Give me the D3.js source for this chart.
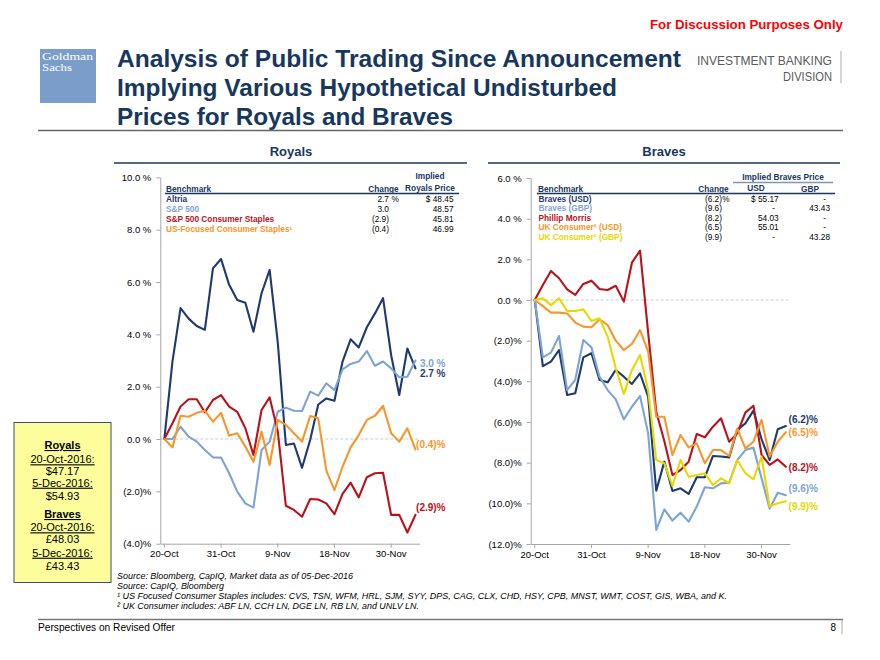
<!DOCTYPE html>
<html><head><meta charset="utf-8">
<script src="https://cdn.jsdelivr.net/npm/d3@7"></script>
<style>
body{margin:0;background:#fff;}
svg{display:block;font-family:"Liberation Sans",Arial,Helvetica,sans-serif;}
</style>
</head><body>
<svg id="c" width="880" height="660"></svg>
<script>
// ---------------- DATA ----------------
const dates = ["20-Oct","21-Oct","24-Oct","25-Oct","26-Oct","27-Oct","28-Oct","31-Oct","1-Nov","2-Nov","3-Nov","4-Nov",
  "7-Nov","8-Nov","9-Nov","10-Nov","11-Nov","14-Nov","15-Nov","16-Nov","17-Nov","18-Nov","21-Nov","22-Nov","23-Nov",
  "25-Nov","28-Nov","29-Nov","30-Nov","1-Dec","2-Dec","5-Dec"];
const tickDates = ["20-Oct","31-Oct","9-Nov","18-Nov","30-Nov"];

const royalsTicks = [-4,-2,0,2,4,6,8,10];
const bravesTicks = [-12,-10,-8,-6,-4,-2,0,2,4,6];

// Royals benchmarks (% change since 20-Oct)
const altria    = [0,2.96,5.0,4.6,4.32,4.17,6.52,6.88,5.89,5.31,5.21,4.10,5.57,6.46,3.7,-0.23,-0.17,-1.10,-0.04,1.32,1.55,1.46,2.96,3.81,3.50,4.27,4.80,5.38,3.2,1.68,3.46,2.7];
const sp500     = [0,0,0.47,0.09,-0.1,-0.42,-0.70,-0.71,-1.31,-2.01,-2.46,-2.62,-0.42,-0.1,1.04,1.20,1.08,1.07,1.81,1.66,2.13,1.87,2.66,2.87,2.96,3.36,2.80,2.96,2.70,2.36,2.38,3.0];
const spStaples = [0,0.6,1.24,1.52,1.52,1.02,1.49,1.68,1.24,1.04,0.41,-0.61,1.11,1.59,0.3,-2.55,-2.71,-2.97,-2.29,-2.31,-2.46,-2.87,-2.10,-1.67,-2.23,-1.46,-1.31,-1.29,-2.90,-2.90,-3.57,-2.9];
const usStaples = [0,-0.32,0.89,0.85,1.0,1.08,0.66,1.0,0.13,0.22,-0.29,-0.87,0.28,-0.99,0.73,0.54,0.22,-0.1,0.88,0.79,-1.21,-1.95,-1.06,-0.32,0.15,0.73,0.89,1.27,0.22,-0.1,0.41,-0.4];

const royalsNames   = ["Altria","S&P 500","S&P 500 Consumer Staples","US-Focused Consumer Staples\u00B9"];
const royalsChange  = [2.7, 3.0, -2.9, -0.4];
const royalsImplied = ["$ 48.45","48.57","45.81","46.99"];

// Braves benchmarks
const bravesUsd    = [0,-3.25,-3.03,-2.46,-4.67,-4.59,-2.82,-2.62,-3.93,-4.05,-3.44,-3.77,-4.13,-3.61,-4.75,-9.38,-7.95,-9.39,-9.26,-9.54,-8.72,-8.72,-7.67,-7.70,-7.74,-6.39,-6.07,-5.44,-6.84,-7.87,-6.36,-6.2];
const bravesGbp    = [0,-2.82,-2.59,-1.77,-4.43,-3.93,-1.97,-2.33,-3.77,-4.43,-4.89,-5.87,-5.25,-4.72,-6.56,-11.31,-10.30,-10.85,-10.46,-10.90,-10.16,-9.21,-9.26,-9.02,-8.98,-7.87,-7.38,-7.26,-8.77,-10.26,-9.48,-9.6];
const philipMorris = [0,0.74,1.43,1.07,0.52,0.25,0.79,0.95,0.54,0.49,0.70,-0.08,1.84,2.43,-1.6,-5.5,-6.95,-8.61,-8.36,-7.95,-6.59,-6.75,-6.23,-5.82,-6.97,-6.56,-5.54,-5.20,-7.62,-8.11,-7.84,-8.2];
const ukUsd        = [0,-0.30,-0.62,-0.62,-0.66,-1.11,-1.31,-1.34,-0.95,-1.23,-2.0,-2.46,-2.16,-1.48,-2.54,-5.74,-5.74,-7.62,-6.64,-7.25,-7.05,-8.03,-7.38,-7.38,-7.67,-6.31,-7.30,-6.97,-5.90,-7.70,-6.97,-6.5];
const ukGbp        = [0,0.08,-0.25,0.08,-0.54,-0.54,-0.46,-1.03,-0.90,-1.80,-3.36,-4.62,-3.44,-2.70,-4.43,-7.87,-8.03,-9.15,-7.87,-8.69,-8.61,-8.52,-9.10,-8.77,-9.02,-7.87,-8.52,-8.82,-7.70,-10.16,-10.0,-9.9];

const bravesNames  = ["Braves (USD)","Braves (GBP)","Phillip Morris","UK Consumer\u00B2 (USD)","UK Consumer\u00B2 (GBP)"];
const bravesChange = [-6.2, -9.6, -8.2, -6.5, -9.9];
const bravesImpUsd = ["$ 55.17","-","54.03","55.01","-"];
const bravesImpGbp = ["-","43.43","-","-","43.28"];

const boxLines = ["Royals","20-Oct-2016:","$47.17","5-Dec-2016:","$54.93","Braves","20-Oct-2016:","\u00A348.03","5-Dec-2016:","\u00A343.43"];

// ---------------- STYLE ----------------
const NAVY = "#1f3a6e", LBLUE = "#7ea4d5", RED = "#b8121b", ORANGE = "#f7962b", YELLOW = "#e6d900";
const HEAD = "#17375e";
const AXIS = "#a6a6a6";
const fmtPct = v => v < 0 ? `(${Math.abs(v).toFixed(1)})%` : `${v.toFixed(1)} %`;
const fmtNum = v => v < 0 ? `(${Math.abs(v).toFixed(1)})` : v.toFixed(1);

const svg = d3.select("#c");

function txt(g, x, y, s, o = {}) {
  const t = g.append("text").attr("x", x).attr("y", y).text(s)
    .attr("font-size", o.size || 10)
    .attr("fill", o.fill || "#000")
    .attr("text-anchor", o.anchor || "start");
  if (o.bold) t.attr("font-weight", "bold");
  if (o.italic) t.attr("font-style", "italic");
  if (o.family) t.attr("font-family", o.family);
  if (o.len) t.attr("textLength", o.len).attr("lengthAdjust", "spacingAndGlyphs");
  if (o.underline) t.attr("text-decoration", "underline");
  return t;
}

// ---------------- HEADER ----------------
txt(svg, 843, 29, "For Discussion Purposes Only", {size: 13, bold: true, fill: "#ff0000", anchor: "end", len: 193});

svg.append("rect").attr("x", 40).attr("y", 49).attr("width", 56).attr("height", 54).attr("fill", "#7b9dca");
txt(svg, 42, 60, "Goldman", {size: 10, fill: "#fff", family: "'Liberation Serif','DejaVu Serif',serif", len: 51});
txt(svg, 42, 71, "Sachs", {size: 10, fill: "#fff", family: "'Liberation Serif','DejaVu Serif',serif", len: 30});

const NARROW = "'Liberation Sans Narrow','Liberation Sans',Arial,sans-serif";
const titleLines = ["Analysis of Public Trading Since Announcement","Implying Various Hypothetical Undisturbed","Prices for Royals and Braves"];
const titleLens = [564, 500, 336];
titleLines.forEach((s, i) => txt(svg, 117, 67 + i * 29, s, {size: 24, bold: true, fill: HEAD, len: titleLens[i]}));

txt(svg, 832, 65, "INVESTMENT BANKING", {size: 13.5, fill: "#5a5a5a", anchor: "end", family: NARROW, len: 135});
txt(svg, 832, 81, "DIVISION", {size: 13.5, fill: "#5a5a5a", anchor: "end", family: NARROW, len: 49});
svg.append("line").attr("x1", 841).attr("x2", 841).attr("y1", 51).attr("y2", 83).attr("stroke", "#aaa").attr("stroke-width", 1);

svg.append("line").attr("x1", 38).attr("x2", 843).attr("y1", 130.5).attr("y2", 130.5).attr("stroke", "#666").attr("stroke-width", 1.5);

// section headers
txt(svg, 291, 156, "Royals", {size: 13, bold: true, fill: HEAD, anchor: "middle"});
svg.append("line").attr("x1", 114).attr("x2", 467).attr("y1", 163).attr("y2", 163).attr("stroke", HEAD).attr("stroke-width", 1.5);
txt(svg, 664, 156, "Braves", {size: 13, bold: true, fill: HEAD, anchor: "middle"});
svg.append("line").attr("x1", 488).attr("x2", 840).attr("y1", 163).attr("y2", 163).attr("stroke", HEAD).attr("stroke-width", 1.5);

// ---------------- CHART FUNCTION ----------------
function chart(cfg) {
  const g = svg.append("g");
  const x = d3.scaleBand().domain(dates).range(cfg.xr).padding(0);
  const y = d3.scaleLinear().domain(cfg.yd).range(cfg.yr);
  const cx = d => x(d) + x.bandwidth() / 2;

  // zero line
  g.append("line").attr("x1", cfg.xr[0]).attr("x2", cfg.xr[1])
    .attr("y1", y(0)).attr("y2", y(0))
    .attr("stroke", "#c0c0c0").attr("stroke-width", 0.8).attr("stroke-dasharray", "3,2");

  const ya = g.append("g").attr("transform", `translate(${cfg.xr[0]},0)`)
    .call(d3.axisLeft(y).tickValues(cfg.ticks).tickSize(4).tickSizeOuter(0).tickPadding(5).tickFormat(fmtPct));
  const xa = g.append("g").attr("transform", `translate(0,${cfg.yr[0]})`)
    .call(d3.axisBottom(x).tickValues(tickDates).tickSize(4).tickSizeOuter(0).tickPadding(3));
  [ya, xa].forEach(a => {
    a.select(".domain").attr("stroke", AXIS);
    a.selectAll(".tick line").attr("stroke", AXIS);
    a.selectAll(".tick text").attr("font-size", 9.5).attr("fill", "#000")
      .attr("font-family", "'Liberation Sans',Arial,sans-serif");
  });

  const line = d3.line().x((d, i) => cx(dates[i])).y(d => y(d));
  cfg.series.forEach((s, i) => {
    g.append("path").datum(s).attr("d", line).attr("fill", "none")
      .attr("stroke", cfg.colors[i]).attr("stroke-width", 2.1)
      .attr("stroke-linejoin", "round").attr("stroke-linecap", "round");
  });

  cfg.labelOrder.forEach((k, j) => {
    txt(g, cfg.labelX, cfg.labelY[j] + 3.5, fmtPct(cfg.change[k]), {size: 10, bold: true, fill: cfg.colors[k], anchor: "end"});
  });
  return {x, y};
}

chart({
  xr: [160.3, 419.5], yd: [-4, 10], yr: [543.7, 177.3], ticks: royalsTicks,
  series: [altria, sp500, spStaples, usStaples],
  colors: [NAVY, LBLUE, RED, ORANGE],
  change: royalsChange,
  labelOrder: [1, 0, 3, 2], labelY: [363, 373, 444.3, 507.7], labelX: 445.5
});

chart({
  xr: [530.7, 789.9], yd: [-12, 6], yr: [544, 178], ticks: bravesTicks,
  series: [bravesUsd, bravesGbp, philipMorris, ukUsd, ukGbp],
  colors: [NAVY, LBLUE, RED, ORANGE, YELLOW],
  change: bravesChange,
  labelOrder: [0, 3, 2, 1, 4], labelY: [419, 432.7, 467.7, 488.3, 506.7], labelX: 818
});

// ---------------- LEGEND TABLES ----------------
const lt = svg.append("g");
const royalColors = [NAVY, LBLUE, RED, ORANGE];
txt(lt, 430, 179, "Implied", {size: 8.3, bold: true, fill: HEAD, anchor: "middle"});
txt(lt, 430, 190.5, "Royals Price", {size: 8.3, bold: true, fill: HEAD, anchor: "middle"});
txt(lt, 166, 191.5, "Benchmark", {size: 8.3, bold: true, fill: HEAD});
txt(lt, 398.7, 191.5, "Change", {size: 8.3, bold: true, fill: HEAD, anchor: "end"});
lt.append("line").attr("x1", 165).attr("x2", 459).attr("y1", 193.5).attr("y2", 193.5).attr("stroke", HEAD).attr("stroke-width", 1.5);
royalsNames.forEach((n, i) => {
  const yy = 201.5 + i * 10;
  txt(lt, 166, yy, n, {size: 8.3, bold: true, fill: royalColors[i]});
  txt(lt, 389, yy, fmtNum(royalsChange[i]), {size: 8.3, anchor: "end"});
  if (i === 0) txt(lt, 391.5, yy, "%", {size: 8.3});
  txt(lt, 453.5, yy, royalsImplied[i], {size: 8.3, anchor: "end"});
});

const rt = svg.append("g");
const braveColors = [NAVY, LBLUE, RED, ORANGE, YELLOW];
txt(rt, 783, 180, "Implied Braves Price", {size: 8.3, bold: true, fill: HEAD, anchor: "middle"});
rt.append("line").attr("x1", 733).attr("x2", 833).attr("y1", 182.5).attr("y2", 182.5).attr("stroke", "#8296b0").attr("stroke-width", 1.5);
txt(rt, 756, 190.5, "USD", {size: 8.3, bold: true, fill: HEAD, anchor: "middle"});
txt(rt, 810, 191.5, "GBP", {size: 8.3, bold: true, fill: HEAD, anchor: "middle"});
txt(rt, 538, 191.5, "Benchmark", {size: 8.3, bold: true, fill: HEAD});
txt(rt, 728.7, 191.5, "Change", {size: 8.3, bold: true, fill: HEAD, anchor: "end"});
rt.append("line").attr("x1", 537).attr("x2", 835).attr("y1", 193.5).attr("y2", 193.5).attr("stroke", HEAD).attr("stroke-width", 1.5);
bravesNames.forEach((n, i) => {
  const yy = 201.5 + i * 9.5;
  txt(rt, 538.5, yy, n, {size: 8.3, bold: true, fill: braveColors[i]});
  txt(rt, 722, yy, fmtNum(bravesChange[i]), {size: 8.3, anchor: "end"});
  if (i === 0) txt(rt, 722.3, yy, "%", {size: 8.3});
  txt(rt, bravesImpUsd[i] === "-" ? 775 : 778.7, yy, bravesImpUsd[i], {size: 8.3, anchor: "end"});
  txt(rt, bravesImpGbp[i] === "-" ? 826 : 830, yy, bravesImpGbp[i], {size: 8.3, anchor: "end"});
});

// ---------------- YELLOW BOX ----------------
const bx = svg.append("g");
bx.append("rect").attr("x", 14).attr("y", 422.5).attr("width", 97).attr("height", 160)
  .attr("fill", "#fdfd9c").attr("stroke", "#3a4f72").attr("stroke-width", 1);
const boxY = [449, 463.3, 475, 486.7, 500, 518, 531.3, 543.3, 556.7, 570];
boxLines.forEach((s, i) => {
  const isHead = (i === 0 || i === 5);
  const ul = isHead || i === 1 || i === 3 || i === 6 || i === 8;
  txt(bx, 62.5, boxY[i], s, {size: 11, bold: isHead, anchor: "middle", underline: ul});
});

// ---------------- FOOTNOTES ----------------
const notes = [
  ["Source: Bloomberg, CapIQ, Market data as of 05-Dec-2016", 236],
  ["Source: CapIQ, Bloomberg", 107],
  ["\u00B9 US Focused Consumer Staples includes: CVS, TSN, WFM, HRL, SJM, SYY, DPS, CAG, CLX, CHD, HSY, CPB, MNST, WMT, COST, GIS, WBA, and K.", 610],
  ["\u00B2 UK Consumer includes: ABF LN, CCH LN, DGE LN, RB LN, and UNLV LN.", 302]
];
notes.forEach((n, i) => txt(svg, 117, 578.5 + i * 10.3, n[0], {size: 9, italic: true, family: NARROW, len: n[1]}));

svg.append("line").attr("x1", 38).attr("x2", 843).attr("y1", 619.5).attr("y2", 619.5).attr("stroke", "#777").attr("stroke-width", 1.5);
txt(svg, 38, 630.5, "Perspectives on Revised Offer", {size: 10, family: NARROW, len: 137});
txt(svg, 836, 630.5, "8", {size: 10, family: NARROW, anchor: "end"});
svg.append("line").attr("x1", 842).attr("x2", 842).attr("y1", 620).attr("y2", 634).attr("stroke", "#aaa");
</script>
</body></html>
